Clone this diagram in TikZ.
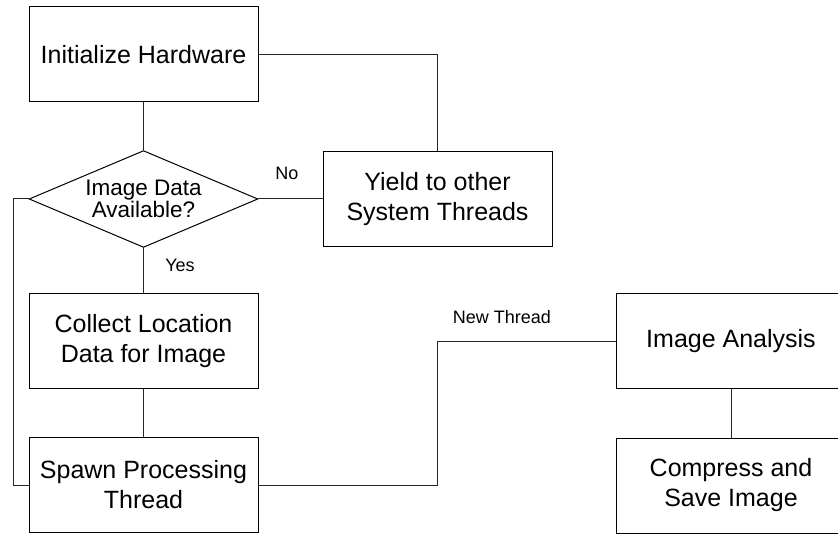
\documentclass[tikz,border=0pt]{standalone}
\usepackage{fontspec}
\setmainfont{Liberation Sans}

\tikzset{
  procbox/.style={draw=black, line width=1pt, fill=white, minimum width=229pt,
    minimum height=95pt, inner sep=0pt, align=center,
    font=\fontsize{25}{30}\selectfont},
  decbox/.style={minimum width=228pt, minimum height=96pt, inner sep=0pt,
    align=center, font=\fontsize{22.5}{20.5}\selectfont},
  diamondline/.style={draw=black, line width=1pt, line join=miter},
  link/.style={draw=black!85, line width=1pt},
  tag/.style={inner sep=0pt, font=\fontsize{18}{21}\selectfont}
}

\begin{document}
\begin{tikzpicture}[x=1pt, y=-1pt]
  \useasboundingbox (0,0) rectangle (838,534);
  \begin{scope}
    \clip (0,0) rectangle (838,534);

    % boxes
    \node[procbox] (init)    at (143.5, 54.5) {Initialize Hardware};
    \node[decbox]  (avail)   at (143.5, 199)  {Image Data\\Available?};
    \draw[diamondline] (avail.north) -- (avail.east) -- (avail.south)
      -- (avail.west) -- cycle;
    \node[procbox] (yield)   at (437.5, 199)  {Yield to other\\System Threads};
    \node[procbox] (collect) at (143.5, 341)  {Collect Location\\Data for Image};
    \node[procbox] (spawn)   at (143.5, 485)  {Spawn Processing\\Thread};
    \node[procbox] (analyse) at (731, 341.5)  {Image Analysis};
    \node[procbox] (save)    at (731, 485.5)  {Compress and\\Save Image};

    % bend points of the routed connectors
    \coordinate (loopback) at (13, 485);
    \coordinate (fork)     at (437, 485);

    % connectors
    \draw[link] (init.east) -| (yield.north);
    \draw[link] (init.south) -- (avail.north);
    \draw[link] (avail.east) -- (yield.west);
    \draw[link] (avail.south) -- (collect.north);
    \draw[link] (collect.south) -- (spawn.north);
    \draw[link] (spawn.west) -- (loopback) |- (avail.west);
    \draw[link] (spawn.east) -- (fork) |- (analyse.west);
    \draw[link] (analyse.south) -- (save.north);

    % labels
    \node[tag] (no)  at (287, 173) {No};
    \node[tag] (yes) at (180, 265) {Yes};
    \node[tag] (nt)  at (502, 317) {New Thread};
  \end{scope}
\end{tikzpicture}
\end{document}
